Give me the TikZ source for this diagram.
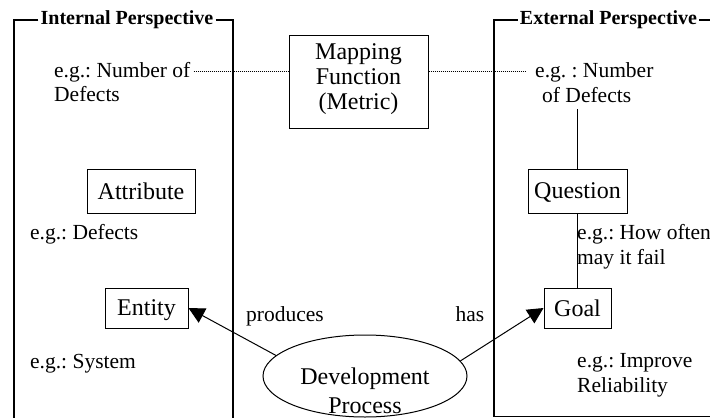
\documentclass[tikz,border=0pt]{standalone}
\usepackage{fontspec}
\setmainfont{Liberation Serif}
\frenchspacing
\usetikzlibrary{arrows.meta, shapes.geometric}
\tikzset{
    persptitle/.style={font=\fontsize{20}{24}\selectfont\bfseries, inner xsep=2pt, inner ysep=0pt},
    framepath/.style={line width=1.2pt},
    conceptbox/.style={rectangle, draw, line width=1pt, font=\fontsize{24}{25}\selectfont, inner sep=0pt, text depth=0pt},
    exampletext/.style={font=\fontsize{21.5}{25}\selectfont, inner sep=0pt, anchor=base west, align=left},
    relationtext/.style={font=\fontsize{21.5}{25}\selectfont, inner sep=0pt, anchor=base},
    procellipse/.style={ellipse, draw, line width=1pt, minimum width=204pt, minimum height=82pt, inner sep=0pt},
    mapline/.style={line width=1pt, dash pattern=on 1pt off 1pt},
    linkline/.style={line width=1pt},
    procarrow/.style={line width=1pt, -{Triangle[length=16pt, width=16pt]}}
}

\begin{document}
\begin{tikzpicture}[x=1pt, y=-1pt]
    \useasboundingbox (0,0) rectangle (710,418);

    % the two perspectives
    \node[persptitle] (inttitle) at (127,20) {Internal Perspective};
    \draw[framepath] (inttitle.west) -- (14,20) -- (14,418);
    \draw[framepath] (inttitle.east) -- (233,20) -- (233,418);
    \node[persptitle] (exttitle) at (608.5,20) {External Perspective};
    \draw[framepath] (exttitle.west) -- (494,20) -- (494,416.5) -- (710,416.5);
    \draw[framepath] (exttitle.east) -- (710,20);

    % concepts
    \node[conceptbox, minimum width=139pt, minimum height=93pt,
        label={[font=\fontsize{24}{25}\selectfont, align=center, inner sep=0pt, yshift=2pt]center:Mapping\\Function\\(Metric)}] (mapfn) at (358.5,81.5) {};
    \node[conceptbox, minimum width=108pt, minimum height=44pt] (attribute) at (141,191) {Attribute};
    \node[conceptbox, minimum width=83pt, minimum height=40pt] (entity) at (146.5,308) {Entity};
    \node[conceptbox, minimum width=99pt, minimum height=44pt] (question) at (577.5,191) {Question};
    \node[conceptbox, minimum width=67pt, minimum height=40pt] (goal) at (577.5,308) {Goal};
    \node[procellipse,
        label={[font=\fontsize{24}{29}\selectfont, align=center, inner sep=0pt, yshift=-15pt]center:Development\\Process}] (devproc) at (365,376) {};

    % examples
    \node[exampletext] (intnum) at (54,77) {e.g.: Number of};
    \node[exampletext] (intdef) at (54,101) {Defects};
    \node[exampletext] (attrex) at (30,239) {e.g.: Defects};
    \node[exampletext] (sysex) at (30,368) {e.g.: System};
    \node[exampletext] (extnum) at (535,77) {e.g. : Number};
    \node[exampletext] (extdef) at (542,102) {of Defects};
    \node[exampletext] (howex) at (577,264) {e.g.: How often\\may it fail};
    \node[exampletext] (relex) at (577,392) {e.g.: Improve\\Reliability};

    % connections
    \draw[mapline, shorten <=3pt] (intnum.east) -- (intnum.east -| mapfn.west);
    \draw[mapline, shorten >=9pt] (mapfn.east |- extnum.west) -- (extnum.west);
    \draw[linkline, shorten >=7pt] (question.north) -- (question.north |- extdef.south);
    \draw[linkline] (question.south) -- (goal.north);
    \draw[procarrow] (devproc.167) -- (entity.east);
    \draw[procarrow] (devproc.9) -- (goal.west);
    \node[relationtext] (produces) at (285,321) {produces};
    \node[relationtext] (has) at (470,321) {has};
\end{tikzpicture}
\end{document}
